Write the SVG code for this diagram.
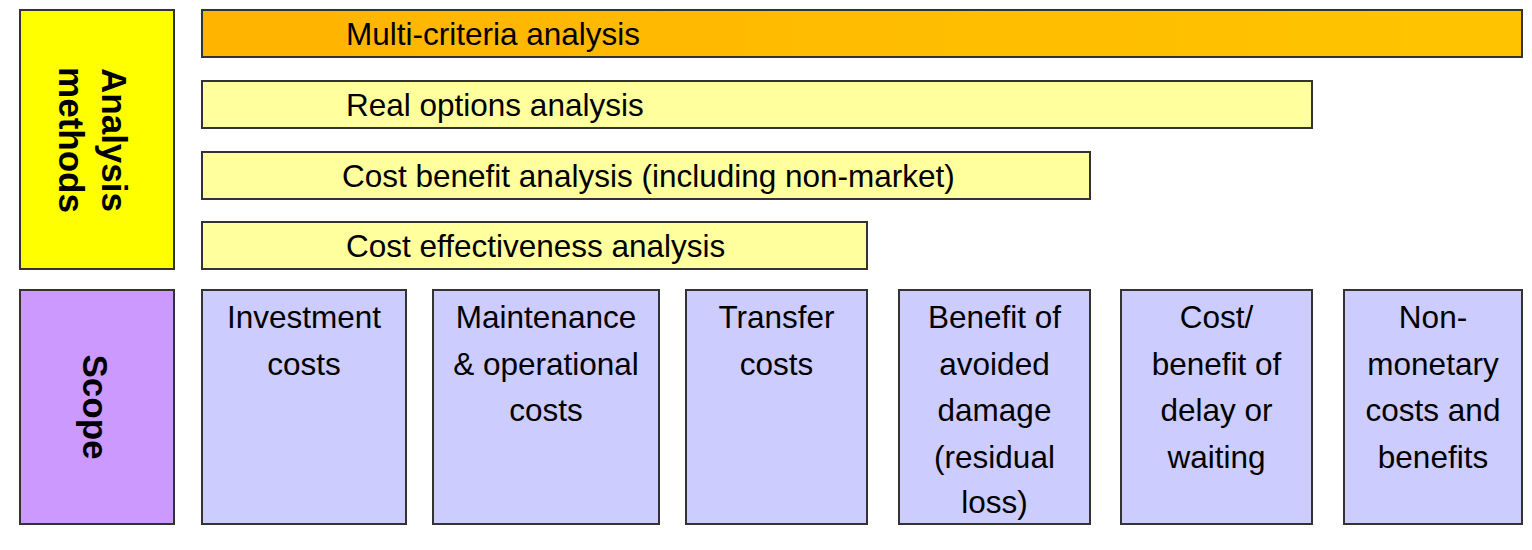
<svg xmlns="http://www.w3.org/2000/svg" width="1532" height="550" viewBox="0 0 1532 550">
<defs>
<linearGradient id="orange" x1="0" y1="0" x2="1" y2="0">
<stop offset="0" stop-color="#FFB400"/>
<stop offset="1" stop-color="#FFC400"/>
</linearGradient>
<style>
.box{stroke:#333;stroke-width:2}
.t{font-family:"Liberation Sans",Arial,sans-serif;font-size:31.5px;fill:#000}
.c{text-anchor:middle}
.b{font-family:"Liberation Sans",Arial,sans-serif;font-size:35px;font-weight:bold;fill:#000;text-anchor:middle}
.bar{fill:#FFFF9E}
.scope{fill:#CCCCFF}
</style>
</defs>
<rect width="1532" height="550" fill="#fff"/>
<g id="analysis-methods">
<rect class="box" x="20" y="10" width="154" height="259" fill="#FFFF00"/>
<text class="b" transform="translate(102,140) rotate(90)">Analysis</text>
<text class="b" transform="translate(59,140) rotate(90)">methods</text>
</g>
<g id="multi-criteria">
<rect class="box" x="202" y="10" width="1320" height="47" fill="url(#orange)"/>
<text class="t" x="346" y="45">Multi-criteria analysis</text>
</g>
<g id="real-options">
<rect class="box bar" x="202" y="81" width="1110" height="47"/>
<text class="t" x="346" y="116">Real options analysis</text>
</g>
<g id="cost-benefit">
<rect class="box bar" x="202" y="152" width="888" height="47"/>
<text class="t" x="342" y="187">Cost benefit analysis (including non-market)</text>
</g>
<g id="cost-effectiveness">
<rect class="box bar" x="202" y="222" width="665" height="47"/>
<text class="t" x="346" y="257">Cost effectiveness analysis</text>
</g>
<g id="scope">
<rect class="box" x="20" y="290" width="154" height="234" fill="#CC99FF"/>
<text class="b" transform="translate(83,407) rotate(90)">Scope</text>
</g>
<g id="investment">
<rect class="box scope" x="202" y="290" width="204" height="234"/>
<text class="t c" x="304" y="328">Investment</text>
<text class="t c" x="304" y="374.5">costs</text>
</g>
<g id="maintenance">
<rect class="box scope" x="433" y="290" width="226" height="234"/>
<text class="t c" x="546" y="328">Maintenance</text>
<text class="t c" x="546" y="374.5">&amp; operational</text>
<text class="t c" x="546" y="421">costs</text>
</g>
<g id="transfer">
<rect class="box scope" x="686" y="290" width="181" height="234"/>
<text class="t c" x="776.5" y="328">Transfer</text>
<text class="t c" x="776.5" y="374.5">costs</text>
</g>
<g id="benefit">
<rect class="box scope" x="899" y="290" width="191" height="234"/>
<text class="t c" x="994.5" y="328">Benefit of</text>
<text class="t c" x="994.5" y="374.5">avoided</text>
<text class="t c" x="994.5" y="421">damage</text>
<text class="t c" x="994.5" y="467.5">(residual</text>
<text class="t c" x="994.5" y="513">loss)</text>
</g>
<g id="delay">
<rect class="box scope" x="1121" y="290" width="191" height="234"/>
<text class="t c" x="1216.5" y="328">Cost/</text>
<text class="t c" x="1216.5" y="374.5">benefit of</text>
<text class="t c" x="1216.5" y="421">delay or</text>
<text class="t c" x="1216.5" y="467.5">waiting</text>
</g>
<g id="non-monetary">
<rect class="box scope" x="1344" y="290" width="178" height="234"/>
<text class="t c" x="1433" y="328">Non-</text>
<text class="t c" x="1433" y="374.5">monetary</text>
<text class="t c" x="1433" y="421">costs and</text>
<text class="t c" x="1433" y="467.5">benefits</text>
</g>
<g id="connectors"/>
</svg>
